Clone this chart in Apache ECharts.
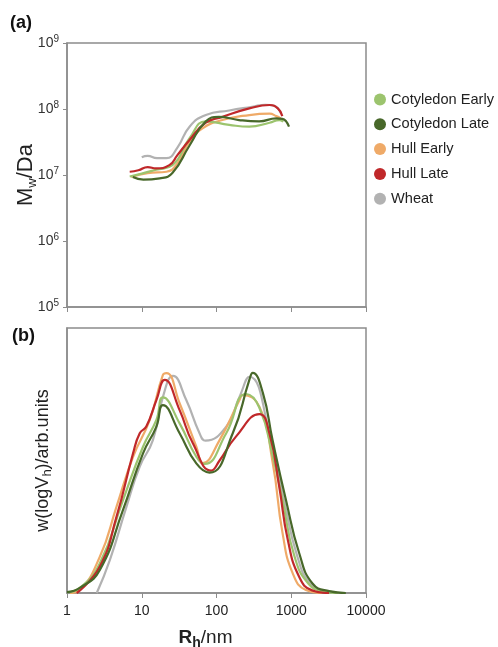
<!DOCTYPE html>
<html>
<head>
<meta charset="utf-8">
<title>Mw and w(logVh) vs Rh</title>
<script src="https://cdn.jsdelivr.net/npm/echarts@6/dist/echarts.min.js"></script>
<style>
  html, body { margin: 0; padding: 0; background: #fff; }
  #chart { width: 498px; height: 647px; }
</style>
</head>
<body>
<div id="chart"></div>
<script>
  // legend order
  var seriesNames = ['Cotyledon Early', 'Cotyledon Late', 'Hull Early', 'Hull Late', 'Wheat'];
  var seriesColors = ['#9cc46e', '#48682a', '#efaa68', '#c0282a', '#b2b2b2'];

  // (a) Mw in Da against Rh in nm
  var mwCotyledonEarly = [[6.9, 9.5e6], [10, 1.05e7], [15.5, 1.2e7], [25.7, 1.41e7], [43.6, 3.6e7], [72, 6.5e7], [148, 5.75e7], [275, 5.4e7], [513, 6.2e7], [692, 6.8e7], [780, 6.4e7]];
  var mwCotyledonLate = [[7.6, 9.3e6], [10.5, 8.5e6], [17.4, 8.9e6], [25.7, 1.07e7], [43.6, 2.8e7], [72, 6.5e7], [107, 7.6e7], [200, 6.8e7], [372, 6.5e7], [631, 7.2e7], [759, 7.1e7], [933, 5.4e7]];
  var mwHullEarly = [[7.2, 9.3e6], [12, 1.07e7], [21.4, 1.12e7], [30, 1.5e7], [43.6, 3.2e7], [65, 5.1e7], [120, 6.8e7], [275, 8.1e7], [513, 8.5e7], [631, 7.8e7], [724, 7.2e7]];
  var mwHullLate = [[6.9, 1.12e7], [9, 1.18e7], [12, 1.32e7], [15.5, 1.26e7], [23.4, 1.41e7], [30, 2e7], [43.6, 3.4e7], [72, 6.2e7], [120, 7.6e7], [275, 1.02e8], [513, 1.15e8], [661, 1.02e8], [759, 7.8e7]];
  var mwWheat = [[10, 1.86e7], [12, 1.95e7], [16, 1.8e7], [21.4, 1.8e7], [30, 2.6e7], [43.6, 5.4e7], [72, 8.1e7], [148, 9.5e7], [300, 1.08e8], [450, 1.16e8], [589, 1.12e8], [724, 8.7e7]];

  // (b) w(logVh), arbitrary units (0 = baseline, 100 = top of frame)
  var wCotyledonEarly = [[1, 0.3], [1.5, 2], [2.75, 11.2], [5.6, 35], [10.4, 55.2], [15.7, 65.3], [19.2, 73.8], [32.1, 64], [53.7, 51.4], [69.2, 48.7], [135, 60.3], [249, 75.1], [374, 70], [562, 52], [766, 35], [1100, 14], [1700, 3.5], [2800, 0.5], [4200, 0]];
  var wCotyledonLate = [[1, 0.3], [1.5, 2], [2.75, 8.7], [5.6, 31.3], [10.4, 52.7], [15.7, 62.8], [19.2, 70.9], [32.1, 60.3], [53.7, 48.9], [80.7, 45.4], [165, 60.3], [275, 80.4], [305, 83.1], [417, 75.5], [562, 57.7], [851, 35], [1279, 15], [1923, 3.6], [3214, 0.7], [5370, 0]];
  var wHullEarly = [[1.1, 0], [1.45, 1], [2.75, 13.7], [4.6, 32.6], [7.65, 51.4], [12.8, 65.3], [19.2, 82.3], [21.4, 83], [32.1, 71.6], [53.7, 55.2], [65.8, 49], [110, 57.7], [203, 72.8], [224, 74.7], [374, 70.3], [562, 49.5], [766, 22.5], [1047, 7.4], [1570, 1.1], [2570, 0]];
  var wHullLate = [[1.35, 0], [2.75, 10], [4.6, 28.8], [7.65, 52.7], [9.4, 60.3], [11.5, 62.8], [15.7, 72.8], [20.3, 80.4], [32.1, 69], [48.3, 56.5], [85, 46.2], [110, 50], [182, 59], [374, 67.5], [513, 60], [692, 40], [900, 20], [1279, 6], [1900, 1], [3200, 0]];
  var wWheat = [[2.5, 0], [3.75, 12.5], [6.25, 32.6], [9.4, 47.7], [14.1, 57.7], [19.2, 74], [26.2, 81.9], [39.4, 72.8], [59.3, 60.3], [71.3, 57.5], [135, 62.8], [203, 74], [275, 81.6], [562, 55], [800, 35], [1200, 14], [1800, 3.5], [3000, 0.5], [4500, 0]];

  var xTickLabels = ['1', '10', '100', '1000', '10000'];
  var yTickExponents = ['5', '6', '7', '8', '9'];

  var mwData = [mwCotyledonEarly, mwCotyledonLate, mwHullEarly, mwHullLate, mwWheat];
  var wData = [wCotyledonEarly, wCotyledonLate, wHullEarly, wHullLate, wWheat];
  // drawing order, back to front
  var drawOrder = [4, 2, 0, 3, 1];

  var font = 'Liberation Sans, Arial, sans-serif';
  var frameColor = '#8c8c8c';

  var series = [];
  drawOrder.forEach(function (i) {
    series.push({
      name: seriesNames[i], type: 'line', xAxisIndex: 0, yAxisIndex: 0,
      data: mwData[i], smooth: 0.5, showSymbol: false, symbol: 'none',
      lineStyle: { width: 2.2, color: seriesColors[i] }, itemStyle: { color: seriesColors[i] }
    });
  });
  drawOrder.forEach(function (i) {
    series.push({
      name: seriesNames[i], type: 'line', xAxisIndex: 1, yAxisIndex: 1,
      data: wData[i], smooth: 0.5, showSymbol: false, symbol: 'none',
      lineStyle: { width: 2.2, color: seriesColors[i] }, itemStyle: { color: seriesColors[i] }
    });
  });

  function decade(v) {
    return Math.round(Math.log10(v));
  }

  var option = {
    animation: false,
    backgroundColor: '#fff',
    textStyle: { fontFamily: font },
    legend: {
      data: seriesNames,
      orient: 'vertical',
      left: 369, top: 87,
      icon: 'circle', itemWidth: 12, itemHeight: 12, itemGap: 9.8,
      textStyle: { fontSize: 14.6, color: '#222', fontFamily: font }
    },
    graphic: [
      { type: 'text', left: 10, top: 14, style: { text: '(a)', fontSize: 18, fontWeight: 'bold', fill: '#111', fontFamily: font } },
      { type: 'text', left: 12, top: 327, style: { text: '(b)', fontSize: 18, fontWeight: 'bold', fill: '#111', fontFamily: font } }
    ],
    grid: [
      { left: 67, top: 43, width: 299, height: 264, show: true, borderColor: frameColor, borderWidth: 1.5, containLabel: false, outerBoundsMode: 'none' },
      { left: 67, top: 328, width: 299, height: 265, show: true, borderColor: frameColor, borderWidth: 1.5, containLabel: false, outerBoundsMode: 'none' }
    ],
    xAxis: [
      {
        type: 'log', logBase: 10, min: 1, max: 10000, gridIndex: 0,
        axisLine: { lineStyle: { color: frameColor, width: 1.5 } },
        axisTick: { show: true, length: 5, lineStyle: { color: frameColor } },
        axisLabel: { show: false },
        splitLine: { show: false }, minorTick: { show: false }
      },
      {
        type: 'log', logBase: 10, min: 1, max: 10000, gridIndex: 1,
        axisLine: { lineStyle: { color: frameColor, width: 1.5 } },
        axisTick: { show: true, length: 5, lineStyle: { color: frameColor } },
        axisLabel: {
          fontSize: 14, color: '#222', margin: 11, fontFamily: font,
          formatter: function (v) { return xTickLabels[decade(v)]; }
        },
        splitLine: { show: false },
        name: '{b|R}{bs|h}{n|/nm}',
        nameLocation: 'middle', nameGap: 33, nameMoveOverlap: false,
        nameTextStyle: {
          padding: [0, 22, 0, 0],
          rich: {
            b: { fontSize: 19, fontWeight: 'bold', color: '#222', fontFamily: font, lineHeight: 24 },
            bs: { fontSize: 14, fontWeight: 'bold', color: '#222', fontFamily: font, verticalAlign: 'bottom', lineHeight: 16 },
            n: { fontSize: 19, color: '#222', fontFamily: font, lineHeight: 24 }
          }
        }
      }
    ],
    yAxis: [
      {
        type: 'log', logBase: 10, min: 1e5, max: 1e9, gridIndex: 0,
        axisLine: { show: true, lineStyle: { color: frameColor, width: 1.5 } },
        axisTick: { show: true, length: 4, lineStyle: { color: frameColor } },
        axisLabel: {
          margin: 8, fontFamily: font,
          formatter: function (v) { return '{m|10}{e|' + yTickExponents[decade(v) - 5] + '}'; },
          rich: {
            m: { fontSize: 14, color: '#333', lineHeight: 18 },
            e: { fontSize: 10, color: '#333', verticalAlign: 'top', lineHeight: 12 }
          }
        },
        splitLine: { show: false },
        name: '{m|M}{s|w}{m|/Da}',
        nameLocation: 'middle', nameGap: 28, nameRotate: 90, nameMoveOverlap: false,
        nameTextStyle: {
          rich: {
            m: { fontSize: 22, color: '#222', fontFamily: font, lineHeight: 26 },
            s: { fontSize: 13, color: '#222', fontFamily: font, verticalAlign: 'bottom', lineHeight: 15 }
          }
        }
      },
      {
        type: 'value', min: 0, max: 100, gridIndex: 1,
        axisLine: { show: true, lineStyle: { color: frameColor, width: 1.5 } },
        axisTick: { show: false },
        axisLabel: { show: false },
        splitLine: { show: false },
        name: '{m|w(logV}{s|h}{m|)/arb.units}',
        nameLocation: 'middle', nameGap: 13, nameRotate: 90, nameMoveOverlap: false,
        nameTextStyle: {
          rich: {
            m: { fontSize: 18, color: '#222', fontFamily: font, lineHeight: 22 },
            s: { fontSize: 13, color: '#222', fontFamily: font, verticalAlign: 'bottom', lineHeight: 14 }
          }
        }
      }
    ],
    series: series
  };

  var chart = echarts.init(document.getElementById('chart'));
  chart.setOption(option);
  window.addEventListener('resize', function () {
    chart.resize();
  });
</script>
</body>
</html>
